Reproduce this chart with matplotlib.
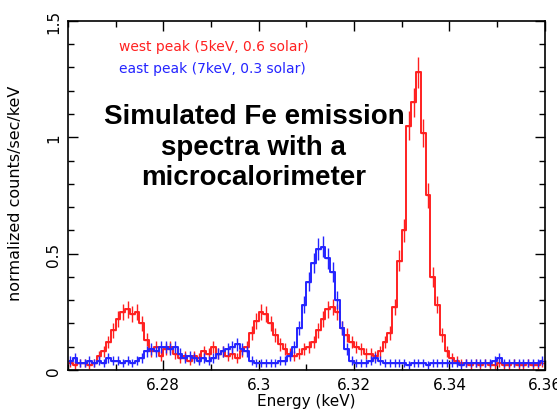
import numpy as np
import matplotlib
matplotlib.use('Agg')
import matplotlib.pyplot as plt
from matplotlib.ticker import MultipleLocator

# bin centres (keV), 1 eV bins
energy_start=6.2605
bin_width=0.001

west_peak=[0.03,0.02,0.03,0.03,0.02,0.03,0.06,0.08,0.12,0.17,
           0.22,0.25,0.26,0.24,0.25,0.20,0.13,0.08,0.10,0.06,
           0.09,0.10,0.07,0.05,0.06,0.04,0.06,0.05,0.08,0.07,
           0.10,0.07,0.08,0.06,0.07,0.05,0.08,0.10,0.16,0.21,
           0.25,0.24,0.20,0.15,0.11,0.09,0.07,0.06,0.07,0.09,
           0.10,0.12,0.17,0.22,0.26,0.27,0.25,0.18,0.15,0.12,
           0.10,0.09,0.07,0.07,0.06,0.08,0.12,0.16,0.27,0.47,
           0.60,1.05,1.15,1.28,1.02,0.75,0.40,0.28,0.15,0.08,
           0.05,0.04,0.03,0.03,0.02,0.03,0.02,0.03,0.02,0.02,
           0.03,0.02,0.02,0.03,0.02,0.02,0.03,0.02,0.02,0.03]

east_peak=[0.04,0.05,0.03,0.03,0.04,0.03,0.04,0.03,0.05,0.04,
           0.04,0.03,0.04,0.03,0.04,0.05,0.08,0.09,0.08,0.10,
           0.10,0.09,0.10,0.07,0.05,0.06,0.05,0.04,0.05,0.04,
           0.05,0.07,0.08,0.09,0.10,0.11,0.09,0.08,0.04,0.03,
           0.03,0.03,0.03,0.03,0.04,0.04,0.06,0.10,0.18,0.28,
           0.38,0.46,0.52,0.53,0.48,0.42,0.30,0.18,0.09,0.04,
           0.03,0.03,0.03,0.04,0.05,0.04,0.03,0.03,0.03,0.03,
           0.03,0.02,0.03,0.03,0.03,0.02,0.03,0.03,0.03,0.03,
           0.03,0.03,0.02,0.03,0.03,0.03,0.03,0.03,0.03,0.04,
           0.05,0.03,0.03,0.03,0.03,0.03,0.03,0.03,0.03,0.04]

x_ticks=[6.28,6.30,6.32,6.34,6.36]
x_labels=['6.28','6.3','6.32','6.34','6.36']
y_ticks=[0,0.5,1.0,1.5]
y_labels=['0','0.5','1','1.5']

red='#ff2020'
blue='#2424ff'

energy=energy_start+bin_width*np.arange(len(west_peak))
west=np.array(west_peak)
east=np.array(east_peak)

fig=plt.figure(figsize=(5.57,4.14),dpi=100)
ax=fig.add_axes([0.122,0.104,0.856,0.843])

for vals,col in [(west,red),(east,blue)]:
    err=0.05*np.sqrt(vals)+0.01
    ax.step(energy,vals,where='mid',color=col,lw=1.4)
    ax.errorbar(energy,vals,yerr=err,xerr=bin_width/2,fmt='none',ecolor=col,elinewidth=1.0)

ax.set_xlim(6.26,6.36)
ax.set_ylim(0,1.5)
ax.set_xticks(x_ticks)
ax.set_xticklabels(x_labels,fontsize=11)
ax.set_yticks(y_ticks)
ax.set_yticklabels(y_labels,fontsize=11,rotation=90,va='center')
ax.xaxis.set_minor_locator(MultipleLocator(0.01))
ax.yaxis.set_minor_locator(MultipleLocator(0.1))
ax.tick_params(which='both',direction='in',top=True,right=True,width=1.0)
ax.tick_params(which='major',length=7,pad=5)
ax.tick_params(which='minor',length=4)
for s in ax.spines.values():
    s.set_linewidth(1.2)

ax.set_xlabel('Energy (keV)',fontsize=11,labelpad=1)
ax.set_ylabel('normalized counts/sec/keV',fontsize=11.5)
ax.yaxis.set_label_coords(-0.095,0.51)

ax.text(0.108,0.928,'west peak (5keV, 0.6 solar)',transform=ax.transAxes,color=red,fontsize=10,va='center')
ax.text(0.108,0.865,'east peak (7keV, 0.3 solar)',transform=ax.transAxes,color=blue,fontsize=10,va='center')

ax.text(0.39,0.64,'Simulated Fe emission\nspectra with a\nmicrocalorimeter',transform=ax.transAxes,
        ha='center',va='center',fontsize=20,fontweight='bold',family='Liberation Sans',linespacing=1.22)

fig.savefig('out.png',dpi=100)
